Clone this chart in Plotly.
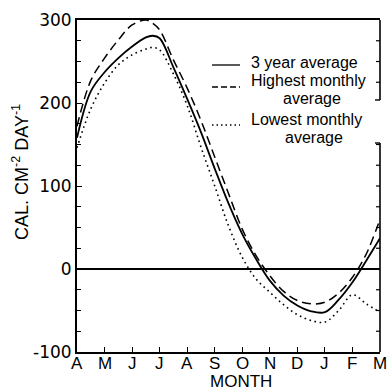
import plotly.graph_objects as go

# ---- data ----
month_labels = ["A", "M", "J", "J", "A", "S", "O", "N", "D", "J", "F", "M"]
month_ticks = list(range(12))
month_pos = [0, 0.5, 1, 1.5, 2, 2.5, 2.75, 3, 3.5, 4, 4.5, 5, 5.5, 6, 6.5,
             7, 7.5, 8, 8.5, 9, 9.5, 10, 10.5, 11]
avg3yr = [158, 214, 237, 254, 268, 279, 281, 278, 243, 205, 165, 121, 79, 42,
          12, -14, -32, -44, -51, -52, -37, -16, 10, 37]
highest = [172, 227, 254, 276, 294, 300, 296, 288, 252, 218, 179, 135, 91, 48,
           16, -8, -27, -38, -42, -40, -29, -10, 18, 60]
lowest = [146, 193, 224, 246, 258, 265, 267, 264, 235, 197, 147, 100, 52, 14,
          -12, -28, -43, -55, -62, -64, -50, -31, -42, -52]
y_tickvals = [-100, 0, 100, 200, 300]
y_ticktext = ["-100", "0", "100", "200", "300"]

W, H = 390, 391
L, R, T, B = 77, 380, 20, 352


def px(xp):
    return (xp - L) / (R - L)


def py(yp):
    return (B - yp) / (B - T)


fig = go.Figure()
fig.add_trace(go.Scatter(x=month_pos, y=avg3yr, mode="lines", line=dict(color="black", width=1.8, shape="spline"), showlegend=False))
fig.add_trace(go.Scatter(x=month_pos, y=highest, mode="lines", line=dict(color="black", width=1.5, dash="9px,5px", shape="spline"), showlegend=False))
fig.add_trace(go.Scatter(x=month_pos, y=lowest, mode="lines", line=dict(color="black", width=1.6, dash="1.6px,3.6px", shape="spline"), showlegend=False))

font_main = "Liberation Sans, Arial, sans-serif"

fig.update_layout(
    width=W, height=H, autosize=False,
    margin=dict(l=L, r=W - R, t=T, b=H - B),
    paper_bgcolor="white", plot_bgcolor="white",
    font=dict(family=font_main, color="black"),
    xaxis=dict(range=[0, 11], tickvals=month_ticks, showticklabels=False,
               ticks="inside", ticklen=5, tickwidth=1.3, tickcolor="black",
               showline=True, linecolor="black", linewidth=2, mirror=True,
               showgrid=False, zeroline=False),
    yaxis=dict(range=[-100, 300], tickvals=y_tickvals, ticktext=y_ticktext,
               ticks="inside", ticklen=5, tickwidth=1.3, tickcolor="black",
               minor=dict(dtick=25, ticks="inside", ticklen=4, tickwidth=1.2, tickcolor="black"),
               showline=True, linecolor="black", linewidth=2, mirror=False,
               showgrid=False, zeroline=True, zerolinecolor="black", zerolinewidth=1.5,
               tickfont=dict(size=17, family="DejaVu Sans, sans-serif")),
)

# right frame with gap for the key
shapes = [
    dict(type="line", xref="paper", yref="paper", x0=1, x1=1, y0=1, y1=py(100), line=dict(color="black", width=1.6)),
    dict(type="line", xref="paper", yref="paper", x0=1, x1=px(375), y0=py(100), y1=py(100), line=dict(color="black", width=1.4)),
    dict(type="line", xref="paper", yref="paper", x0=1, x1=1, y0=py(143), y1=0, line=dict(color="black", width=1.6)),
    dict(type="line", xref="paper", yref="paper", x0=1, x1=px(375), y0=py(143), y1=py(143), line=dict(color="black", width=1.4)),
]
for v in range(-75, 300, 25):
    yp = B - (v + 100) / 400 * (B - T)
    if 100 < yp < 143:
        continue
    shapes.append(dict(type="line", xref="paper", yref="y", x0=1, x1=px(376), y0=v, y1=v,
                       line=dict(color="black", width=1.2)))
# key samples
shapes += [
    dict(type="line", xref="paper", yref="paper", x0=px(212), x1=px(240), y0=py(65), y1=py(65), line=dict(color="black", width=1.3)),
    dict(type="line", xref="paper", yref="paper", x0=px(212), x1=px(240), y0=py(87), y1=py(87), line=dict(color="black", width=1.3, dash="6px,3px")),
    dict(type="line", xref="paper", yref="paper", x0=px(212), x1=px(240), y0=py(125), y1=py(125), line=dict(color="black", width=1.3, dash="1.5px,3px")),
]
fig.update_layout(shapes=shapes)

key_font = dict(size=16, family=font_main, color="black")
anns = [
    dict(text="3 year average", x=px(250), y=py(63), xanchor="left", yanchor="middle"),
    dict(text="Highest monthly", x=px(250), y=py(81), xanchor="left", yanchor="middle"),
    dict(text="average", x=px(312), y=py(99), xanchor="center", yanchor="middle"),
    dict(text="Lowest monthly", x=px(250), y=py(119), xanchor="left", yanchor="middle"),
    dict(text="average", x=px(314), y=py(137), xanchor="center", yanchor="middle"),
    dict(text="MONTH", x=px(241), y=py(381), xanchor="center", yanchor="middle", font=dict(size=17, family=font_main)),
    dict(text="CAL. CM<sup>-2</sup> DAY<sup>-1</sup>", x=px(20), y=py(172), xanchor="center", yanchor="middle",
         textangle=-90, font=dict(size=18, family=font_main)),
]
for a in anns:
    a.setdefault("font", key_font)
    a.update(xref="paper", yref="paper", showarrow=False, borderpad=0)
# month tick labels placed at the axis positions
for m, lab in zip(month_ticks, month_labels):
    anns.append(dict(text=lab, x=m, xref="x", y=py(363), yref="paper", xanchor="center", yanchor="middle",
                     showarrow=False, font=dict(size=17, family=font_main)))
fig.update_layout(annotations=anns)

fig.write_html("out.html", config={"displayModeBar": False},
               post_script="document.body.style.margin='0';document.body.style.overflow='hidden';")
